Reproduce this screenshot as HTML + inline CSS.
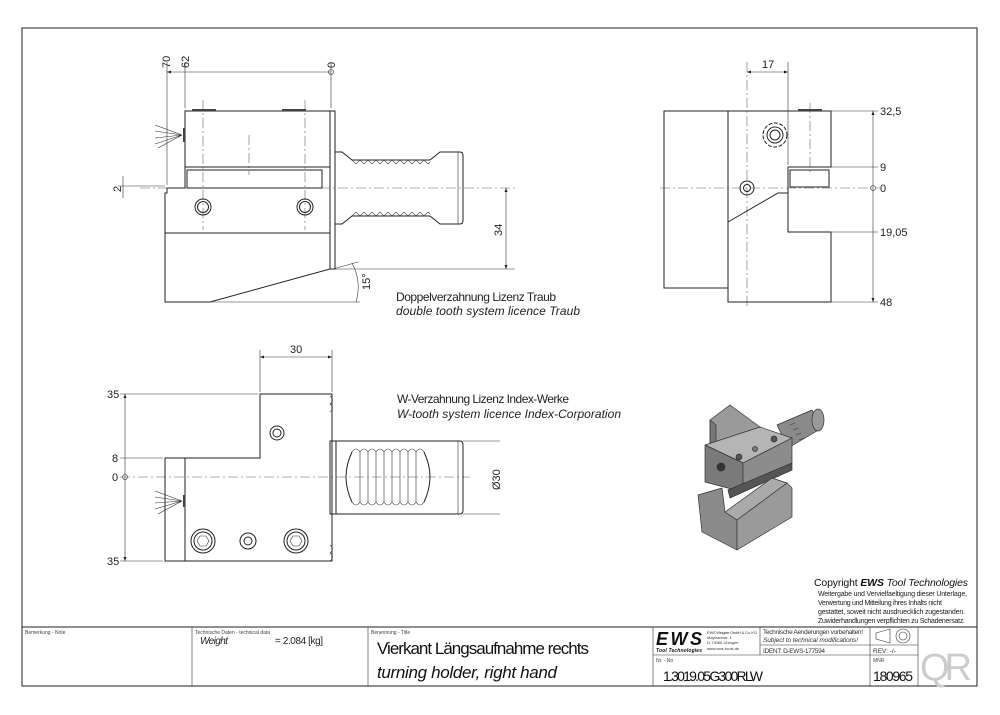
<!DOCTYPE html>
<html><head><meta charset="utf-8"><style>
body{margin:0;background:#fff}
svg{display:block;font-family:"Liberation Sans Narrow","Liberation Sans",sans-serif}
.l{stroke:#222;stroke-width:1;fill:none}
.t{stroke:#333;stroke-width:.6;fill:none}
.c{stroke:#666;stroke-width:.6;fill:none;stroke-dasharray:10 3 2 3}
.d{font-size:11px;fill:#222}
</style></head><body>
<svg width="1000" height="715" viewBox="0 0 1000 715">
<defs><marker id="a" viewBox="0 0 8 6" refX="8" refY="3" markerWidth="7" markerHeight="5" orient="auto-start-reverse"><path d="M0,0L8,3L0,6z" fill="#222"/></marker></defs>
<rect x="22" y="28" width="955" height="658" class="l"/>
<!-- Title block -->
<line x1="22" y1="627" x2="977" y2="627" class="l" stroke-width="1.5"/>
<line x1="192" y1="627" x2="192" y2="686" class="t"/>
<line x1="368" y1="627" x2="368" y2="686" class="t"/>
<line x1="653" y1="627" x2="653" y2="686" class="t"/>
<line x1="760" y1="627" x2="760" y2="655" class="t"/>
<line x1="870" y1="627" x2="870" y2="686" class="t"/>
<line x1="918" y1="627" x2="918" y2="686" class="t"/>
<line x1="653" y1="655" x2="918" y2="655" class="t"/>
<line x1="760" y1="645" x2="918" y2="645" class="t"/>
<text x="25" y="634" font-size="5" fill="#444">Bemerkung - Note</text>
<text x="195" y="634" font-size="5" fill="#444">Technische Daten - technical data</text>
<text x="200" y="644" font-size="10" font-style="italic" fill="#222" textLength="28">Weight</text>
<text x="275" y="644" font-size="10" fill="#222" textLength="48">= 2.084 [kg]</text>
<text x="371" y="634" font-size="5" fill="#444">Benennung - Title</text>
<text x="377" y="654" font-size="17" fill="#111" textLength="212">Vierkant Längsaufnahme rechts</text>
<text x="377" y="678" font-size="17" font-style="italic" fill="#111" textLength="180">turning holder, right hand</text>
<text x="656" y="645" font-size="18" font-weight="bold" font-style="italic" fill="#111" textLength="46">EWS</text>
<text x="656" y="652" font-size="5" font-weight="bold" font-style="italic" fill="#111" textLength="46">Tool Technologies</text>
<text x="707" y="634" font-size="4" fill="#333" textLength="50">EWS Weigele GmbH &amp; Co. KG</text>
<text x="707" y="639" font-size="4" fill="#333">Maybachstr. 1</text>
<text x="707" y="644" font-size="4" fill="#333">D-73066 Uhingen</text>
<text x="707" y="650" font-size="4" fill="#333">www.ews-tools.de</text>
<text x="763" y="634" font-size="6.5" fill="#333" textLength="100">Technische Aenderungen vorbehalten!</text>
<text x="763" y="642" font-size="6.5" font-style="italic" fill="#333" textLength="95">Subject to technical modifications!</text>
<text x="763" y="653" font-size="6.5" fill="#333" textLength="62">IDENT:  D-EWS-177594</text>
<text x="873" y="653" font-size="6.5" fill="#333">REV:  -/-</text>
<path d="M876,633L890,629L890,643L876,639z" class="t"/>
<circle cx="903" cy="636" r="7" class="t"/><circle cx="903" cy="636" r="4" class="t"/>
<text x="656" y="662" font-size="5" fill="#444">Nr. - No</text>
<text x="663" y="681" font-size="14" fill="#111" textLength="100">1.3019.05G300RLW</text>
<text x="873" y="662" font-size="5" fill="#444">MNR</text>
<text x="873" y="681" font-size="14" fill="#111" textLength="40">180965</text>
<text x="920" y="680" font-size="38" fill="#ccc" textLength="52">QR</text>
<!-- copyright -->
<text x="814" y="586" font-size="10.5" fill="#111" textLength="154">Copyright <tspan font-weight="bold" font-style="italic">EWS</tspan><tspan font-style="italic"> Tool Technologies</tspan></text>
<text x="818" y="596" font-size="7" fill="#222" textLength="149">Weitergabe und Vervielfaeltigung dieser Unterlage,</text>
<text x="818" y="605" font-size="7" fill="#222" textLength="124">Verwertung und Mitteilung ihres Inhalts nicht</text>
<text x="818" y="614" font-size="7" fill="#222" textLength="147">gestattet, soweit nicht ausdruecklich zugestanden.</text>
<text x="818" y="623" font-size="7" fill="#222" textLength="147">Zuwiderhandlungen verpflichten zu Schadenersatz.</text>

<!-- TOP-LEFT VIEW -->
<line x1="140" y1="188" x2="515" y2="188" class="c"/>
<line x1="203" y1="100" x2="203" y2="230" class="c"/><line x1="305" y1="100" x2="305" y2="230" class="c"/>
<line x1="249" y1="135" x2="249" y2="175" class="c"/>
<rect x="185" y="111" width="145" height="56" class="l"/>
<rect x="187" y="170" width="135" height="18" class="l"/>
<path d="M185,167V188H167V193H165V302H210L330,269V167" class="l"/>
<line x1="165" y1="233" x2="330" y2="233" class="l"/>
<rect x="192" y="109" width="24" height="2" fill="#444"/><rect x="282" y="109" width="24" height="2" fill="#444"/>
<rect x="183" y="128" width="2" height="14" fill="#444"/>
<path d="M182,135L155,125M182,135L155,131M182,135L155,138M182,135L155,144M182,135L158,148" class="t"/>
<rect x="330" y="111" width="5" height="158" class="l"/>
<circle cx="203" cy="207" r="8" class="l"/><circle cx="203" cy="207" r="5.5" class="l"/>
<circle cx="305" cy="207" r="8" class="l"/><circle cx="305" cy="207" r="5.5" class="l"/>
<path d="M335,152H342L352,160H430L440,152H460Q463,152 463,156V220Q463,224 460,224H440L430,216H352L342,224H335" class="l"/>
<path d="M352,160l4,4l4,-4l4,4l4,-4l4,4l4,-4l4,4l4,-4l4,4l4,-4l4,4l4,-4l4,4l4,-4l4,4l4,-4l4,4l4,-4l4,4l2,-2" class="t"/>
<path d="M352,216l4,-4l4,4l4,-4l4,4l4,-4l4,4l4,-4l4,4l4,-4l4,4l4,-4l4,4l4,-4l4,4l4,-4l4,4l4,-4l4,4l4,-4l2,2" class="t"/>
<line x1="458" y1="152" x2="458" y2="224" class="t"/>
<line x1="167" y1="62" x2="167" y2="185" class="t"/><line x1="185" y1="62" x2="185" y2="108" class="t"/>
<line x1="331" y1="62" x2="331" y2="108" class="t"/>
<line x1="167" y1="72" x2="331" y2="72" class="t" marker-start="url(#a)"/>
<circle cx="331" cy="72" r="2.5" class="t"/>
<text class="d" transform="translate(170,68) rotate(-90)">70</text>
<text class="d" transform="translate(189,68) rotate(-90)">62</text>
<text class="d" transform="translate(335,68) rotate(-90)">0</text>
<line x1="118" y1="186" x2="165" y2="186" class="t"/>
<line x1="123" y1="176" x2="123" y2="198" class="t"/>
<text class="d" transform="translate(121,192) rotate(-90)">2</text>
<line x1="335" y1="269" x2="515" y2="269" class="t"/>
<line x1="506" y1="188" x2="506" y2="269" class="t" marker-start="url(#a)" marker-end="url(#a)"/>
<text class="d" transform="translate(502,236) rotate(-90)">34</text>
<line x1="210" y1="302" x2="360" y2="302" class="t"/>
<line x1="333" y1="269" x2="358" y2="262" class="t"/>
<path d="M352,263Q362,282 356,302" class="t"/>
<text class="d" transform="translate(370,290) rotate(-90)">15°</text>
<text x="396" y="301" font-size="12" fill="#222" textLength="160">Doppelverzahnung Lizenz Traub</text>
<text x="396" y="315" font-size="12" font-style="italic" fill="#222" textLength="184">double tooth system licence Traub</text>

<!-- RIGHT VIEW -->
<line x1="660" y1="188" x2="880" y2="188" class="c"/>
<line x1="747" y1="62" x2="747" y2="308" class="c"/>
<line x1="810" y1="103" x2="810" y2="175" class="c"/>
<rect x="664" y="111" width="64" height="177" class="l"/>
<path d="M728,111H831V167H788V232H831V302H728Z" class="l"/>
<rect x="790" y="170" width="39" height="17" class="l"/>
<path d="M728,222L778,193H788" class="l"/>
<rect x="798" y="109" width="24" height="2" fill="#444"/>
<circle cx="775" cy="135" r="12" class="l" stroke-dasharray="4 1.5" stroke-width="2"/>
<circle cx="775" cy="135" r="8" class="l"/><circle cx="775" cy="135" r="5" class="l"/>
<circle cx="747" cy="188" r="7" class="l"/><circle cx="747" cy="188" r="3.5" class="l"/>
<line x1="788" y1="62" x2="788" y2="165" class="t"/>
<line x1="747" y1="72" x2="788" y2="72" class="t" marker-start="url(#a)" marker-end="url(#a)"/>
<text class="d" x="762" y="68">17</text>
<line x1="831" y1="111" x2="878" y2="111" class="t"/><line x1="831" y1="167" x2="878" y2="167" class="t"/>
<line x1="831" y1="232" x2="878" y2="232" class="t"/><line x1="831" y1="302" x2="878" y2="302" class="t"/>
<line x1="873" y1="111" x2="873" y2="302" class="t" marker-start="url(#a)" marker-end="url(#a)"/>
<circle cx="873" cy="188" r="2.5" class="t"/>
<text class="d" x="880" y="115">32,5</text><text class="d" x="880" y="171">9</text>
<text class="d" x="880" y="192">0</text><text class="d" x="880" y="236">19,05</text>
<text class="d" x="880" y="306">48</text>

<!-- BOTTOM VIEW -->
<line x1="120" y1="477" x2="470" y2="477" class="c"/>
<path d="M260,394H332V561H165V458H260Z" class="l"/>
<line x1="185" y1="458" x2="185" y2="561" class="l"/>
<path d="M330,396q5,4 0,8q5,4 0,8M330,545q5,4 0,8q5,4 0,8" class="t"/>
<rect x="330" y="441" width="6" height="73" class="l"/>
<path d="M336,441H460Q463,441 463,445V510Q463,514 460,514H336" class="l"/>
<path d="M352,452Q340,477 352,502" class="l"/>
<path d="M352,452q4,-6 8,0q4,-6 8,0q4,-6 8,0q4,-6 8,0q4,-6 8,0q4,-6 8,0q4,-6 8,0q4,-6 8,0q4,-6 8,0M352,502q4,6 8,0q4,6 8,0q4,6 8,0q4,6 8,0q4,6 8,0q4,6 8,0q4,6 8,0q4,6 8,0q4,6 8,0" class="t"/>
<path d="M424,452Q436,477 424,502" class="l"/>
<line x1="360" y1="452" x2="360" y2="502" class="t"/><line x1="368" y1="452" x2="368" y2="502" class="t"/><line x1="376" y1="452" x2="376" y2="502" class="t"/><line x1="384" y1="452" x2="384" y2="502" class="t"/><line x1="392" y1="452" x2="392" y2="502" class="t"/><line x1="400" y1="452" x2="400" y2="502" class="t"/><line x1="408" y1="452" x2="408" y2="502" class="t"/><line x1="416" y1="452" x2="416" y2="502" class="t"/>
<line x1="458" y1="441" x2="458" y2="514" class="t"/>
<circle cx="277" cy="433" r="7" class="l"/><circle cx="277" cy="433" r="4" class="l"/>
<circle cx="203" cy="541" r="12" class="l"/><circle cx="203" cy="541" r="9" class="l"/><path d="M197,541l3,-5h6l3,5l-3,5h-6z" class="t"/>
<circle cx="248" cy="541" r="8" class="l" stroke-width="2"/><circle cx="248" cy="541" r="4" class="l"/>
<circle cx="296" cy="541" r="12" class="l"/><circle cx="296" cy="541" r="9" class="l"/><path d="M290,541l3,-5h6l3,5l-3,5h-6z" class="t"/>
<rect x="183" y="495" width="2" height="12" fill="#444"/>
<path d="M182,501L155,491M182,501L155,497M182,501L155,503M182,501L155,509M182,501L158,514" class="t"/>
<line x1="260" y1="350" x2="260" y2="392" class="t"/><line x1="332" y1="350" x2="332" y2="392" class="t"/>
<line x1="260" y1="357" x2="332" y2="357" class="t" marker-start="url(#a)" marker-end="url(#a)"/>
<text class="d" x="290" y="353">30</text>
<line x1="120" y1="394" x2="258" y2="394" class="t"/><line x1="120" y1="458" x2="163" y2="458" class="t"/>
<line x1="120" y1="561" x2="163" y2="561" class="t"/>
<line x1="125" y1="394" x2="125" y2="561" class="t" marker-start="url(#a)" marker-end="url(#a)"/>
<circle cx="125" cy="477" r="2.5" class="t"/>
<text class="d" x="107" y="398">35</text><text class="d" x="112" y="462">8</text>
<text class="d" x="112" y="481">0</text><text class="d" x="107" y="565">35</text>
<line x1="463" y1="441" x2="500" y2="441" class="t"/><line x1="463" y1="514" x2="500" y2="514" class="t"/>
<text class="d" transform="translate(500,490) rotate(-90)">Ø30</text>
<text x="397" y="403" font-size="12" fill="#222" textLength="172">W-Verzahnung Lizenz Index-Werke</text>
<text x="397" y="418" font-size="12" font-style="italic" fill="#222" textLength="224">W-tooth system licence Index-Corporation</text>

<!-- ISO VIEW -->
<g stroke="#333" stroke-width=".7" stroke-linejoin="round">
<path d="M777,425L812,410L822,428L788,448Z" fill="#8a8a8a"/>
<ellipse cx="818" cy="420" rx="6" ry="11" fill="#999"/>
<path d="M790,425l5,-2M793,430l5,-2M796,435l5,-2M799,440l5,-2" class="t"/>
<path d="M710,420L730,405L760,427L760,448L710,445Z" fill="#9a9a9a"/>
<path d="M710,420L710,445L716,448L716,425Z" fill="#777"/>
<path d="M705,445L760,427L792,438L743,463Z" fill="#b5b5b5"/>
<path d="M705,445L743,463L743,492L705,482Z" fill="#7a7a7a"/>
<path d="M743,463L792,438L792,463L743,492Z" fill="#8c8c8c"/>
<path d="M728,490L792,463L792,470L730,498Z" fill="#555"/>
<path d="M698,495L722,488L725,512L737,520L737,550L702,532Z" fill="#8a8a8a"/>
<path d="M725,512L737,520L787,483L772,478Z" fill="#aaa"/>
<path d="M737,520L787,483L792,488L792,517L737,550Z" fill="#9a9a9a"/>
<circle cx="721" cy="467" r="4" fill="#333"/>
<circle cx="774" cy="439" r="3" fill="#555"/><circle cx="739" cy="457" r="3" fill="#555"/><circle cx="755" cy="449" r="2.5" fill="#777"/>
</g>
</svg>
</body></html>
